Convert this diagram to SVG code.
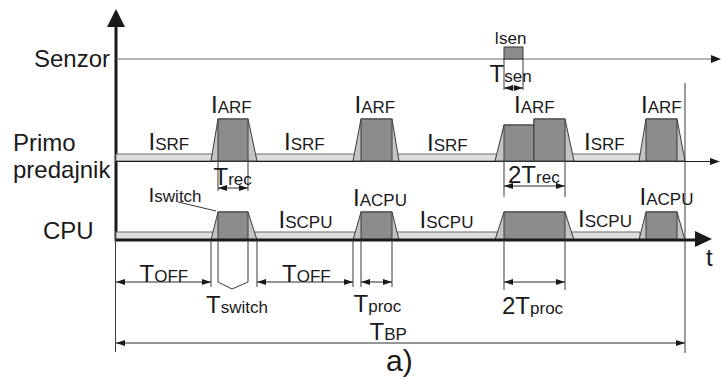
<svg xmlns="http://www.w3.org/2000/svg" width="727" height="379" viewBox="0 0 727 379">
<style>
text { font-family: "Liberation Sans", Arial, sans-serif; fill: #1a1a1a; }
.big { font-size: 24px; }
.sub { font-size: 17px; }
.ttl { font-size: 24px; }
.band { fill: #dedede; stroke: #6a6a6a; stroke-width: 1; }
.trap { fill: #c4c4c4; stroke: #3a3a3a; stroke-width: 1; }
.dark { fill: #8c8c8c; stroke: #3a3a3a; stroke-width: 1; }
.thin { stroke: #3a3a3a; stroke-width: 1; fill: none; }
.dim { stroke: #2a2a2a; stroke-width: 1; fill: none; marker-start: url(#da); marker-end: url(#da); }
</style>
<defs>
<marker id="da" viewBox="0 0 9 6" refX="9" refY="3" markerWidth="9" markerHeight="6" markerUnits="userSpaceOnUse" orient="auto-start-reverse">
<path d="M0,0 L9,3 L0,6 z" fill="#1a1a1a"/>
</marker>
</defs>

<g id="axes">
<line x1="116" y1="26" x2="116" y2="241" stroke="#1a1a1a" stroke-width="3"/>
<polygon points="116,9 107,27 125,27" fill="#1a1a1a"/>
<line x1="115.5" y1="240" x2="115.5" y2="352" class="thin"/>
<line x1="685" y1="83" x2="685" y2="353" class="thin"/>
</g>

<g id="senzor">
<text class="ttl" x="110" y="67" text-anchor="end">Senzor</text>
<line x1="116" y1="59" x2="712" y2="59" stroke="#6a6a6a" stroke-width="1.2"/>
<polygon points="721,59 711,55 711,63" fill="#1a1a1a"/>
<rect x="504" y="47" width="19" height="12" class="dark"/>
<text x="494.5" y="44" font-size="16">I<tspan class="sub">sen</tspan></text>
<line x1="504" y1="59" x2="504" y2="90" class="thin"/>
<line x1="523" y1="59" x2="523" y2="90" class="thin"/>
<line x1="504" y1="88" x2="523" y2="88" class="dim"/>
<text class="big" x="489.5" y="82">T<tspan class="sub">sen</tspan></text>
</g>

<g id="primo">
<text class="ttl" x="13" y="151">Primo</text>
<text class="ttl" x="13" y="178">predajnik</text>
<rect x="116" y="154" width="524" height="7" class="band"/>
<line x1="116" y1="161.5" x2="711" y2="161.5" stroke="#1a1a1a" stroke-width="1.2"/>
<polygon points="720,161.5 710,158 710,165" fill="#1a1a1a"/>
<polygon points="211,161 218,119 248,119 257,161" class="trap"/>
<rect x="218" y="119" width="30" height="42" class="dark"/>
<polygon points="353,161 361,119 392,119 399,161" class="trap"/>
<rect x="361" y="119" width="31" height="42" class="dark"/>
<polygon points="495,161 504,125 534,125 534,119 565,119 574,161" class="trap"/>
<rect x="504" y="125" width="30" height="36" class="dark"/>
<rect x="534" y="119" width="31" height="42" class="dark"/>
<polygon points="639,161 646,119 677,119 685,161" class="trap"/>
<rect x="646" y="119" width="31" height="42" class="dark"/>
<text class="big" x="148.5" y="150">I<tspan class="sub">SRF</tspan></text>
<text class="big" x="284" y="150">I<tspan class="sub">SRF</tspan></text>
<text class="big" x="427" y="151">I<tspan class="sub">SRF</tspan></text>
<text class="big" x="584" y="150">I<tspan class="sub">SRF</tspan></text>
<text class="big" x="211" y="113">I<tspan class="sub">ARF</tspan></text>
<text class="big" x="354.5" y="113">I<tspan class="sub">ARF</tspan></text>
<text class="big" x="514" y="113">I<tspan class="sub">ARF</tspan></text>
<text class="big" x="641" y="113">I<tspan class="sub">ARF</tspan></text>
<line x1="218" y1="161" x2="218" y2="191" class="thin"/>
<line x1="248" y1="161" x2="248" y2="191" class="thin"/>
<line x1="218" y1="188" x2="248" y2="188" class="dim"/>
<text class="big" x="213.5" y="185">T<tspan class="sub">rec</tspan></text>
<line x1="504" y1="161" x2="504" y2="197" class="thin"/>
<line x1="565" y1="161" x2="565" y2="197" class="thin"/>
<line x1="504" y1="186" x2="565" y2="186" class="dim"/>
<text class="big" x="508" y="183">2T<tspan class="sub">rec</tspan></text>
</g>

<g id="cpu">
<text class="ttl" x="43" y="239">CPU</text>
<rect x="116" y="232" width="524" height="8" class="band"/>
<polygon points="211,240 218,212 248,212 257,240" class="trap"/>
<rect x="218" y="212" width="30" height="28" class="dark"/>
<polygon points="353,240 361,212 392,212 399,240" class="trap"/>
<rect x="361" y="212" width="31" height="28" class="dark"/>
<polygon points="495,240 504,212 565,212 574,240" class="trap"/>
<rect x="504" y="212" width="61" height="28" class="dark"/>
<polygon points="639,240 646,212 677,212 685,240" class="trap"/>
<rect x="646" y="212" width="31" height="28" class="dark"/>
<line x1="116" y1="240" x2="697" y2="240" stroke="#1a1a1a" stroke-width="3"/>
<polygon points="712,239 695,231 695,247" fill="#1a1a1a"/>
<text class="big" x="706" y="266">t</text>
<text x="148.5" y="202" font-size="21">I<tspan class="sub">switch</tspan></text>
<line x1="178" y1="202" x2="216" y2="211" class="thin"/>
<text class="big" x="278.5" y="228">I<tspan class="sub">SCPU</tspan></text>
<text class="big" x="419.5" y="228">I<tspan class="sub">SCPU</tspan></text>
<text class="big" x="578" y="227">I<tspan class="sub">SCPU</tspan></text>
<text class="big" x="353" y="206">I<tspan class="sub">ACPU</tspan></text>
<text class="big" x="639.5" y="205">I<tspan class="sub">ACPU</tspan></text>
</g>

<g id="connectors">
<line x1="211" y1="240" x2="211" y2="287" class="thin"/>
<line x1="257" y1="240" x2="257" y2="287" class="thin"/>
<polyline points="218,240 218,282 232,289 248,282 248,240" class="thin"/>
<line x1="353" y1="240" x2="353" y2="287" class="thin"/>
<line x1="361" y1="240" x2="361" y2="287" class="thin"/>
<line x1="392" y1="240" x2="392" y2="287" class="thin"/>
<line x1="504" y1="240" x2="504" y2="290" class="thin"/>
<line x1="565" y1="240" x2="565" y2="290" class="thin"/>
<line x1="116" y1="282" x2="211" y2="282" class="dim"/>
<line x1="257" y1="282" x2="353" y2="282" class="dim"/>
<line x1="361" y1="282" x2="392" y2="282" class="dim"/>
<line x1="504" y1="282" x2="565" y2="282" class="dim"/>
<line x1="116" y1="343" x2="685" y2="343" class="dim"/>
</g>

<g id="labels">
<text class="big" x="139.5" y="282">T<tspan class="sub">OFF</tspan></text>
<text class="big" x="282" y="282">T<tspan class="sub">OFF</tspan></text>
<text class="big" x="206" y="312.5">T<tspan class="sub">switch</tspan></text>
<text class="big" x="353.5" y="311.5">T<tspan class="sub">proc</tspan></text>
<text class="big" x="502" y="314">2T<tspan class="sub">proc</tspan></text>
<text class="big" x="369.5" y="340">T<tspan class="sub">BP</tspan></text>
<text x="386" y="371" font-size="30">a)</text>
</g>
</svg>
